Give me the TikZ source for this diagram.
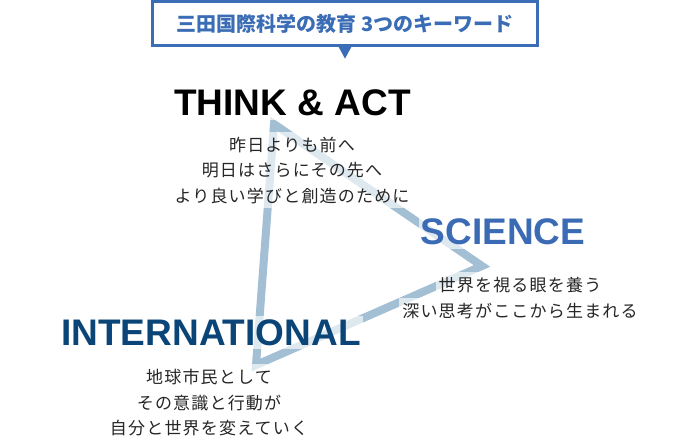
\documentclass[tikz,border=0pt]{standalone}
\usepackage{fontspec}
\setmainfont{Liberation Sans}
\newfontfamily\jp{Noto Sans CJK JP}[LetterSpace=7]
\newfontfamily\jphead{Noto Sans CJK JP}
\usetikzlibrary{calc}
\definecolor{hblue}{HTML}{3A6DB5}
\definecolor{sblue}{HTML}{3A6BB4}
\definecolor{navy}{HTML}{0B4577}
\definecolor{tricol}{HTML}{A3BFD4}
\definecolor{bodytext}{HTML}{262626}
\begin{document}
\begin{tikzpicture}[x=1pt,y=-1pt,
  hdrbox/.style={draw=hblue, line width=2.3pt, minimum width=385pt, minimum height=44pt, inner sep=0pt, text=hblue, font=\jphead\bfseries\fontsize{20}{24}\selectfont},
  triline/.style={draw=tricol, line width=8pt, line join=miter},
  halo/.style={fill=white, fill opacity=0.65, text opacity=1},
  title/.style={halo, font=\fontsize{37}{37}\selectfont\bfseries, anchor=base, inner xsep=2pt, inner ysep=0pt, text height=29pt, text depth=4pt},
  jline/.style={halo, font=\jp\fontsize{17}{20}\selectfont, text=bodytext, anchor=base, inner xsep=3pt, inner ysep=0pt, text height=19.5pt, text depth=6pt}
]
\useasboundingbox (0,0) rectangle (690,443);
% header
\node[hdrbox] (hdr) at (345,23.5) {三田国際科学の教育 3つのキーワード\hspace{8pt}};
\fill[hblue] ($(hdr.south)+(-6.5,0)$) -- ($(hdr.south)+(6.5,0)$) -- ($(hdr.south)+(0,12)$) -- cycle;
% triangle
\coordinate (vt) at (274,124);
\coordinate (vr) at (482,266);
\coordinate (vb) at (256,365);
\draw[triline] (vt) -- (vr) -- (vb) -- cycle;
% THINK & ACT
\node[title, text=black] (think) at (292.5,116) {THINK \& ACT};
\node[jline] (t1) at (292,151.5) {昨日よりも前へ};
\node[jline] (t2) at (292,177) {明日はさらにその先へ};
\node[jline] (t3) at (292,202.5) {より良い学びと創造のために};
% SCIENCE
\node[title, text=sblue] (sci) at (503,245) {SCIENCE};
\node[jline] (s1) at (520,292) {世界を視る眼を養う};
\node[jline] (s2) at (520,317.5) {深い思考がここから生まれる};
% INTERNATIONAL
\node[title, text=navy] (intl) at (211,345) {INTERNATIONAL};
\node[jline] (i1) at (209,383.5) {地球市民として};
\node[jline] (i2) at (209,409) {その意識と行動が};
\node[jline] (i3) at (209,434.5) {自分と世界を変えていく};
\end{tikzpicture}
\end{document}
